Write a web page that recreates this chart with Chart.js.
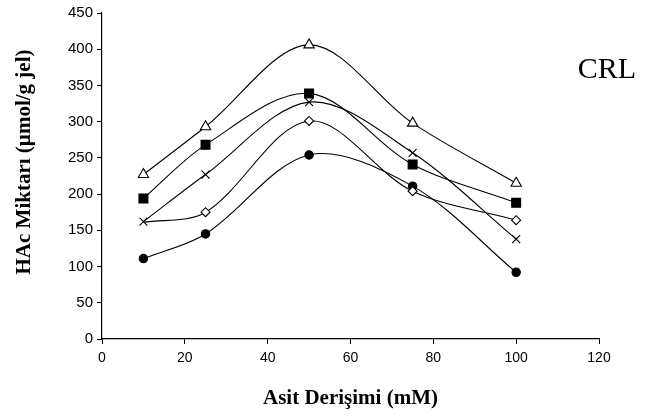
<!DOCTYPE html>
<html>
<head>
<meta charset="utf-8">
<script src="https://cdn.jsdelivr.net/npm/chart.js@4"></script>
<style>
  body { margin: 0; background: #fff; }
  #wrap { width: 654px; height: 419px; }
</style>
</head>
<body>
<div id="wrap"><canvas id="myChart" width="654" height="419"></canvas></div>
<script>
// Asit derişimi (mM)
const derisim = [10, 25, 50, 75, 100];

// HAc miktarı (µmol/g jel), one array per series
const ucgen = [227, 293, 406, 298, 215];
const kare = [194, 268, 339, 241, 188];
const carpi = [162, 227, 327, 257, 138];
const elmas = [161, 175, 301, 204, 164];
const daire = [111, 145, 254, 211, 92];

const xTicks = [0, 20, 40, 60, 80, 100, 120];
const yTicks = [0, 50, 100, 150, 200, 250, 300, 350, 400, 450];

function toPoints(ys) {
    return derisim.map((x, i) => ({ x: x, y: ys[i] }));
}

function seri(ys, style, fill, radius) {
    return {
        data: toPoints(ys),
        showLine: true,
        tension: 0.33,
        borderColor: '#000',
        borderWidth: 1.1,
        pointStyle: style,
        pointRadius: radius,
        pointBackgroundColor: fill,
        pointBorderColor: '#000',
        pointBorderWidth: 1.1
    };
}

// CRL label and the y title (drawn by hand so it sits a bit higher, like the original)
const etiketler = {
    id: 'etiketler',
    afterDraw(chart) {
        const c = chart.ctx;
        c.save();
        c.fillStyle = '#000';
        c.textAlign = 'center';
        c.textBaseline = 'middle';
        c.font = '30px "Liberation Serif"';
        c.fillText('CRL', 607, 70);
        c.translate(25, 162);
        c.rotate(-Math.PI / 2);
        c.font = 'bold 21px "Liberation Serif"';
        c.fillText('HAc Miktarı (µmol/g jel)', 0, 0);
        c.restore();
    }
};

const ctx = document.getElementById('myChart').getContext('2d');

// the diamond's first point sits under the cross, only its line shows there
const elmasSeri = seri(elmas, 'rectRot', '#fff', 4.5);
elmasSeri.pointRadius = [0, 4.5, 4.5, 4.5, 4.5];

new Chart(ctx, {
    type: 'scatter',
    data: {
        datasets: [
            seri(ucgen, 'triangle', '#fff', 6),
            seri(kare, 'rect', '#000', 6.3),
            elmasSeri,
            seri(carpi, 'crossRot', '#000', 5.6),
            seri(daire, 'circle', '#000', 4.2)
        ]
    },
    plugins: [etiketler],
    options: {
        responsive: false,
        animation: false,
        layout: { padding: { top: 9, right: 55, left: 0, bottom: 0 } },
        plugins: {
            legend: { display: false },
            tooltip: { enabled: false }
        },
        scales: {
            x: {
                type: 'linear',
                min: 0,
                max: 120,
                afterBuildTicks: (s) => { s.ticks = xTicks.map(v => ({ value: v })); },
                afterFit: (s) => { s.height = 80; },
                border: { color: '#000', width: 1.2 },
                grid: { drawOnChartArea: false, drawTicks: true, tickLength: 5, color: '#000' },
                ticks: { color: '#000', font: { family: 'Liberation Sans', size: 14 }, padding: 6 },
                title: {
                    display: true,
                    text: 'Asit Derişimi (mM)',
                    color: '#000',
                    font: { family: 'Liberation Serif', size: 21, weight: 'bold' },
                    padding: { top: 0, bottom: 8 }
                }
            },
            y: {
                min: 0,
                max: 450,
                afterBuildTicks: (s) => { s.ticks = yTicks.map(v => ({ value: v })); },
                afterFit: (s) => { s.width = 102; },
                border: { color: '#000', width: 1.2 },
                grid: { drawOnChartArea: false, drawTicks: true, tickLength: 5, color: '#000' },
                ticks: { color: '#000', font: { family: 'Liberation Sans', size: 15 }, padding: 4 }
            }
        }
    }
});
</script>
</body>
</html>
